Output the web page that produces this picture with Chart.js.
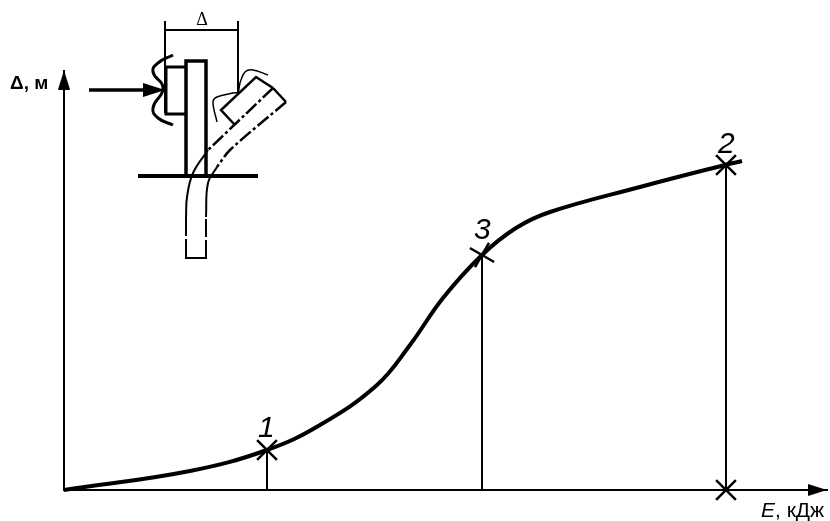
<!DOCTYPE html>
<html><head><meta charset="UTF-8">
  <title>Delta vs E</title>
  <script src="https://cdn.jsdelivr.net/npm/chart.js@4"></script>
  <style>
    html, body { margin: 0; padding: 0; background: #fff; }
    canvas { display: block; }
  </style>
</head>
<body>
  <canvas id="chart" width="830" height="521"></canvas>
  <script>
    // main curve, [E, delta]
    var curve = [[0,0],[126,19],[203,40],[256,65],[313,105],[346,145],[379,192],[418,235],[452,262],[486,278],[576,303],[661,325],[678,329]];
    var marks = [[203,40],[418,235],[662,325],[662,0]];
    var markTurn = [45,30,45,45];
    var drop1 = [[203,40],[203,0]];
    var drop3 = [[418,235],[418,0]];
    var drop2 = [[662,325],[662,0]];

    // inset sketch, same units
    var dimLeft = [[101,469],[101,377]];
    var dimRight = [[174,469],[174,398]];
    var dimLine = [[101,460],[174,460]];
    var plate = [[122,314],[122,429],[142,429],[142,314]];
    var floorLine = [[74,314],[194,314]];
    var block = [[122,423],[102,423],[102,376],[122,376]];
    var loadShaft = [[25,400],[82,400]];
    var wave = [[109,435],[94,427],[89,418],[99,402],[89,382],[94,372],[109,365]];
    var oldPlateLeft = [[122,272],[122,232]];
    var oldPlateBottom = [[121,232],[143,232]];
    var oldPlateRight = [[142,232],[142,273]];
    var bentLeft = [[144,340],[129,317],[123,293],[122,272]];
    var bentRight = [[153,323],[144,307],[142,273]];
    var bentLeftDash = [[209,402],[144,340]];
    var bentRightDash = [[222,388],[166,340],[153,323]];
    var bentEnd = [[222,388],[209,402]];
    var bentBlock = [[209,402],[192,413],[157,380],[170,366]];
    var wave2 = [[153,368],[149,388],[153,393],[169,397],[174,398],[176,407],[181,418],[189,420],[204,415]];

    var axisArrows = [[753.5,0],[0,410]];
    var axisTurn = [90,0];
    var loadArrow = [[90,400]];
    var dimArrows = [[108,460],[167,460]];
    var dimTurn = [-90,90];

    var labels = [
      { text: '1', x: 194, y: 53, font: 'italic 30px "Liberation Sans"', align: 'left' },
      { text: '3', x: 410, y: 251, font: 'italic 30px "Liberation Sans"', align: 'left' },
      { text: '2', x: 654, y: 337, font: 'italic 30px "Liberation Sans"', align: 'left' },
      { text: 'Δ', x: 138, y: 465, font: '18px "Liberation Serif"', align: 'center' },
      { text: 'Δ, м', x: -54, y: 401, font: 'bold 19px "Liberation Sans"', align: 'left' }
    ];

    function arrowImg(len, wid) {
      var c = document.createElement('canvas');
      c.width = wid; c.height = len;
      var g = c.getContext('2d');
      g.beginPath();
      g.moveTo(wid / 2, 0);
      g.lineTo(wid, len);
      g.lineTo(0, len);
      g.closePath();
      g.fillStyle = '#000';
      g.fill();
      return c;
    }

    function line(data, width, dash, tension) {
      return {
        data: data, showLine: true, borderColor: '#000', borderWidth: width,
        borderDash: dash || [], tension: tension || 0, pointRadius: 0, clip: false,
        borderCapStyle: 'butt', borderJoinStyle: 'miter'
      };
    }

    function arrows(data, img, turn) {
      return {
        data: data, showLine: false, pointStyle: img, rotation: turn,
        pointRadius: 10, backgroundColor: '#000', borderWidth: 0, clip: false
      };
    }

    var datasets = [
      line(curve, 4, null, 0.4),
      line(drop1, 2), line(drop3, 2), line(drop2, 2),
      {
        data: marks, showLine: false, pointStyle: 'crossRot', rotation: markTurn.map(function (r) { return r - 45; }),
        pointRadius: 14, borderColor: '#000', borderWidth: 2.5, clip: false
      },
      line(dimLeft, 2), line(dimRight, 2), line(dimLine, 2),
      line(plate, 3.5), line(floorLine, 4), line(block, 3), line(loadShaft, 3.5),
      line(wave, 3, null, 0.5),
      line(oldPlateLeft, 2, [18, 3]), line(oldPlateBottom, 2), line(oldPlateRight, 2, [18, 3]),
      line(bentLeft, 2, null, 0.4), line(bentRight, 2, null, 0.4),
      line(bentLeftDash, 2.5, [14, 3, 3, 3]),
      line(bentRightDash, 2.5, [14, 3, 3, 3], 0.3),
      line(bentEnd, 2.5),
      line(bentBlock, 2.5),
      line(wave2, 1.5, null, 0.4),
      arrows(axisArrows, arrowImg(19, 12), axisTurn),
      arrows(loadArrow, arrowImg(22, 14), [90]),
      arrows(dimArrows, arrowImg(14, 7), dimTurn)
    ];

    var textPlugin = {
      id: 'textPlugin',
      afterDraw: function (chart) {
        var ctx = chart.ctx;
        ctx.save();
        ctx.fillStyle = '#000';
        ctx.textBaseline = 'alphabetic';
        labels.forEach(function (l) {
          ctx.font = l.font;
          ctx.textAlign = l.align;
          ctx.fillText(l.text, chart.scales.x.getPixelForValue(l.x), chart.scales.y.getPixelForValue(l.y));
        });
        // x axis title, first letter italic
        var tx = chart.scales.x.getPixelForValue(697);
        var ty = chart.scales.y.getPixelForValue(-27);
        ctx.textAlign = 'left';
        ctx.font = 'italic 21px "Liberation Sans"';
        ctx.fillText('E', tx, ty);
        var w = ctx.measureText('E').width;
        ctx.font = '21px "Liberation Sans"';
        ctx.fillText(', кДж', tx + w, ty);
        ctx.restore();
      }
    };

    new Chart(document.getElementById('chart'), {
      type: 'scatter',
      data: { datasets: datasets },
      plugins: [textPlugin],
      options: {
        responsive: false,
        animation: false,
        layout: { autoPadding: false, padding: { left: 64, right: 3, top: 71, bottom: 31 } },
        plugins: { legend: { display: false }, tooltip: { enabled: false } },
        scales: {
          x: {
            type: 'linear', min: 0, max: 763,
            grid: { display: false, drawTicks: false },
            border: { display: true, color: '#000', width: 2 },
            ticks: { display: false }
          },
          y: {
            type: 'linear', min: 0, max: 419,
            grid: { display: false, drawTicks: false },
            border: { display: true, color: '#000', width: 2 },
            ticks: { display: false }
          }
        }
      }
    });
  </script>
</body></html>
